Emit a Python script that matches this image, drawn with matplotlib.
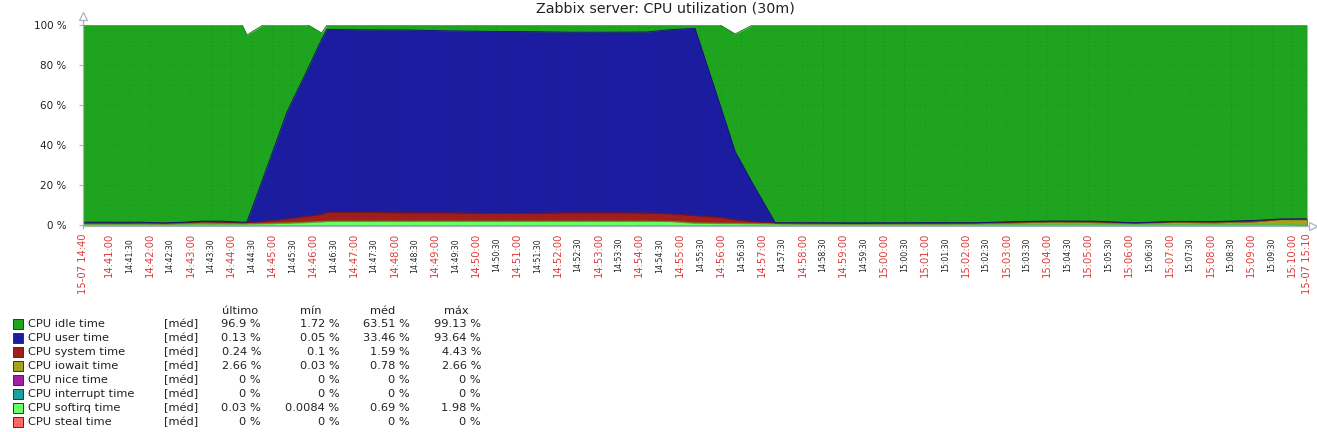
import matplotlib

matplotlib.use("Agg")
import matplotlib.pyplot as plt
import numpy as np
from matplotlib.colors import to_rgb
from matplotlib.patches import Rectangle

W, H, DPI = 1317, 432, 100

# sample times in seconds after 15-07 14:40:00
SAMPLE_SEC = [22, 51, 81, 110, 140, 169, 198, 228, 256, 263, 287, 322, 353, 373, 381,
              440, 498, 557, 616, 675, 734, 793, 851, 887, 922, 959, 981, 1007, 1040,
              1098, 1157, 1216, 1275, 1334, 1393, 1451, 1510, 1569, 1628, 1687, 1746,
              1783, 1822]

IDLE = [98.6, 98.6, 98.6, 98.6, 99.0, 98.6, 98.1, 98.1, 98.6, 93.5, 76.5, 43.5, 21.7,
        3.2, 2.2, 2.4, 2.5, 2.9, 3.2, 3.3, 3.6, 3.6, 3.5, 2.3, 1.7, 40.1, 58.8, 79.4,
        98.9, 98.9, 98.9, 98.9, 98.8, 98.9, 98.3, 98.0, 98.1, 98.9, 98.2, 98.3, 97.7,
        97.0, 96.9]
USER = [0.4, 0.4, 0.5, 0.4, 0.0, 0.3, 0.3, 0.4, 0.3, 0.3, 21.7, 53.4, 73.8, 87.5, 91.5,
        91.3, 91.4, 91.0, 91.0, 90.9, 90.3, 90.3, 90.5, 92.1, 93.6, 56.1, 34.0, 18.8,
        0.1, 0.1, 0.4, 0.2, 0.3, 0.1, 0.3, 0.2, 0.3, 0.1, 0.2, 0.2, 0.3, 0.2, 0.13]
SYSTEM = [0.4, 0.4, 0.3, 0.4, 0.5, 0.4, 0.5, 0.6, 0.4, 0.5, 1.0, 2.0, 3.0, 3.5, 4.4,
          4.4, 4.2, 4.2, 3.9, 3.9, 4.2, 4.2, 4.1, 3.8, 3.6, 2.9, 1.8, 1.0, 0.3, 0.5,
          0.2, 0.4, 0.4, 0.4, 0.3, 0.3, 0.4, 0.1, 0.3, 0.4, 0.4, 0.1, 0.24]
IOWAIT = [0.2, 0.2, 0.2, 0.2, 0.1, 0.3, 0.7, 0.5, 0.3, 0.2, 0.2, 0.3, 0.3, 0.3, 0.1,
          0.1, 0.1, 0.1, 0.1, 0.1, 0.1, 0.1, 0.1, 0.1, 0.3, 0.2, 0.2, 0.2, 0.2, 0.2,
          0.2, 0.2, 0.2, 0.3, 0.8, 1.2, 0.9, 0.6, 1.0, 0.8, 1.3, 2.4, 2.66]
NICE = [0.0] * len(SAMPLE_SEC)
INTERRUPT = [0.0] * len(SAMPLE_SEC)
SOFTIRQ = [0.4, 0.4, 0.4, 0.4, 0.4, 0.4, 0.4, 0.4, 0.4, 0.5, 0.6, 0.8, 1.2, 1.5, 1.8,
           1.8, 1.8, 1.8, 1.8, 1.8, 1.8, 1.8, 1.8, 1.7, 0.8, 0.7, 0.7, 0.6, 0.5, 0.3,
           0.3, 0.3, 0.3, 0.3, 0.3, 0.3, 0.3, 0.3, 0.3, 0.3, 0.3, 0.3, 0.03]
STEAL = [0.0] * len(SAMPLE_SEC)

SERIES_NAMES = ["CPU idle time", "CPU user time", "CPU system time", "CPU iowait time",
                "CPU nice time", "CPU interrupt time", "CPU softirq time", "CPU steal time"]
SERIES_COLORS = ["#1EA41E", "#1C1CA0", "#A01E1E", "#A3A31E",
                 "#A31EA3", "#1EA0A0", "#66FF66", "#FF6666"]
LAST_VALUES = ["96.9 %", "0.13 %", "0.24 %", "2.66 %", "0 %", "0 %", "0.03 %", "0 %"]
MIN_VALUES = ["1.72 %", "0.05 %", "0.1 %", "0.03 %", "0 %", "0 %", "0.0084 %", "0 %"]
AVG_VALUES = ["63.51 %", "33.46 %", "1.59 %", "0.78 %", "0 %", "0 %", "0.69 %", "0 %"]
MAX_VALUES = ["99.13 %", "93.64 %", "4.43 %", "2.66 %", "0 %", "0 %", "1.98 %", "0 %"]
STAT_HEADERS = ["último", "mín", "méd", "máx"]

START_SEC, END_SEC = 22, 1822
START_LABEL, END_LABEL = "15-07 14:40", "15-07 15:10"
TITLE = "Zabbix server: CPU utilization (30m)"

TEXT = "#222222"
AXIS_GRAY = "#A9B3BD"
RED_LABEL = "#E03A3A"


def fx(px):
    return px / W


def fy(py):
    return 1 - py / H


def darken(color, k=0.75):
    r, g, b = to_rgb(color)
    return (r * k, g * k, b * k)


fig = plt.figure(figsize=(W / DPI, H / DPI), dpi=DPI)
ax = fig.add_axes([fx(83), fy(225), (1307 - 83) / W, 200 / H])
ax.set_xlim(START_SEC, END_SEC)
ax.set_ylim(0, 100)

series = [IDLE, USER, SYSTEM, IOWAIT, NICE, INTERRUPT, SOFTIRQ, STEAL]
x = np.array(SAMPLE_SEC, dtype=float)

# stacked bottom-up in reverse legend order
tops = {}
base = np.zeros(len(x))
for i in reversed(range(len(series))):
    base = base + np.array(series[i], dtype=float)
    tops[i] = base.copy()

# paint each layer from 0 to its top, upper layers first, so no seams show
for i in range(len(series)):
    if np.any(series[i]):
        ax.fill_between(x, 0, tops[i], color=SERIES_COLORS[i], lw=0, zorder=2)
for i in reversed(range(len(series))):
    if np.any(series[i]):
        ax.plot(x, tops[i], color=darken(SERIES_COLORS[i]), lw=0.7, zorder=3)

# grid and x labels
tick_sec = [START_SEC] + list(range(60, 1801, 30)) + [END_SEC]
grid_kw = dict(color="black", alpha=0.08, lw=0.7, ls=(0, (1.5, 2.5)), zorder=4,
               clip_on=False)
for t in tick_sec:
    ax.axvline(t, **grid_kw)
for v in range(10, 100, 10):
    ax.axhline(v, **grid_kw)

xtrans = ax.get_xaxis_transform()
for t in tick_sec:
    if t == START_SEC or t == END_SEC:
        label = START_LABEL if t == START_SEC else END_LABEL
        ax.text(t, -0.04, label, rotation=90, ha="center", va="top",
                fontsize=7.2, color=RED_LABEL, transform=xtrans)
    elif t % 60 == 0:
        label = f"{14 + (40 + t // 60) // 60}:{(40 + t // 60) % 60:02d}:00"
        ax.text(t, -0.04, label, rotation=90, ha="center", va="top",
                fontsize=7.2, color=RED_LABEL, transform=xtrans)
    else:
        label = f"{14 + (40 + t // 60) // 60}:{(40 + t // 60) % 60:02d}:30"
        ax.text(t, -0.065, label, rotation=90, ha="center", va="top",
                fontsize=5.6, color=TEXT, transform=xtrans)

ax.set_xticks([])
ax.set_yticks(range(0, 101, 20))
ax.set_yticklabels([f"{v} %" for v in range(0, 101, 20)])
ax.tick_params(axis="y", length=3, color=AXIS_GRAY, labelsize=7.5,
               labelcolor=TEXT, pad=9)
for spine in ax.spines.values():
    spine.set_visible(False)

# axis lines with open arrow heads
sec_per_px = (END_SEC - START_SEC) / (1307 - 83)
ax.plot([START_SEC, START_SEC], [-1.5, 103.5], color=AXIS_GRAY, lw=0.9,
        clip_on=False, zorder=5)
ax.plot(START_SEC, 104.5, marker="^", ms=6, mfc="white", mec=AXIS_GRAY, mew=0.9,
        clip_on=False, zorder=5)
ax.plot([START_SEC, END_SEC + 4 * sec_per_px], [-0.5, -0.5], color=AXIS_GRAY,
        lw=0.9, clip_on=False, zorder=5)
ax.plot(END_SEC + 6 * sec_per_px, -0.5, marker=">", ms=6, mfc="white",
        mec=AXIS_GRAY, mew=0.9, clip_on=False, zorder=5)

fig.text(fx(665.5), fy(8), TITLE, ha="center", va="center", fontsize=10.3, color=TEXT)

# legend table
stat_right = [261, 339.5, 409.5, 481]
header_center = [240, 311, 382.5, 456]
for hx, head in zip(header_center, STAT_HEADERS):
    fig.text(fx(hx), fy(311.5), head, ha="center", va="center", fontsize=8.2, color=TEXT)

for i, name in enumerate(SERIES_NAMES):
    row_y = 324.3 + 14 * i
    fig.add_artist(Rectangle((fx(12.5), fy(row_y + 5)), 10 / W, 10 / H,
                             transform=fig.transFigure, facecolor=SERIES_COLORS[i],
                             edgecolor="#333333", lw=0.7))
    fig.text(fx(28), fy(row_y), name, ha="left", va="center", fontsize=8.2, color=TEXT)
    fig.text(fx(164), fy(row_y), "[méd]", ha="left", va="center", fontsize=8.2, color=TEXT)
    row_stats = [LAST_VALUES[i], MIN_VALUES[i], AVG_VALUES[i], MAX_VALUES[i]]
    for rx, val in zip(stat_right, row_stats):
        fig.text(fx(rx), fy(row_y), val, ha="right", va="center", fontsize=8.2, color=TEXT)

fig.savefig("out.png", dpi=DPI)
plt.close(fig)
